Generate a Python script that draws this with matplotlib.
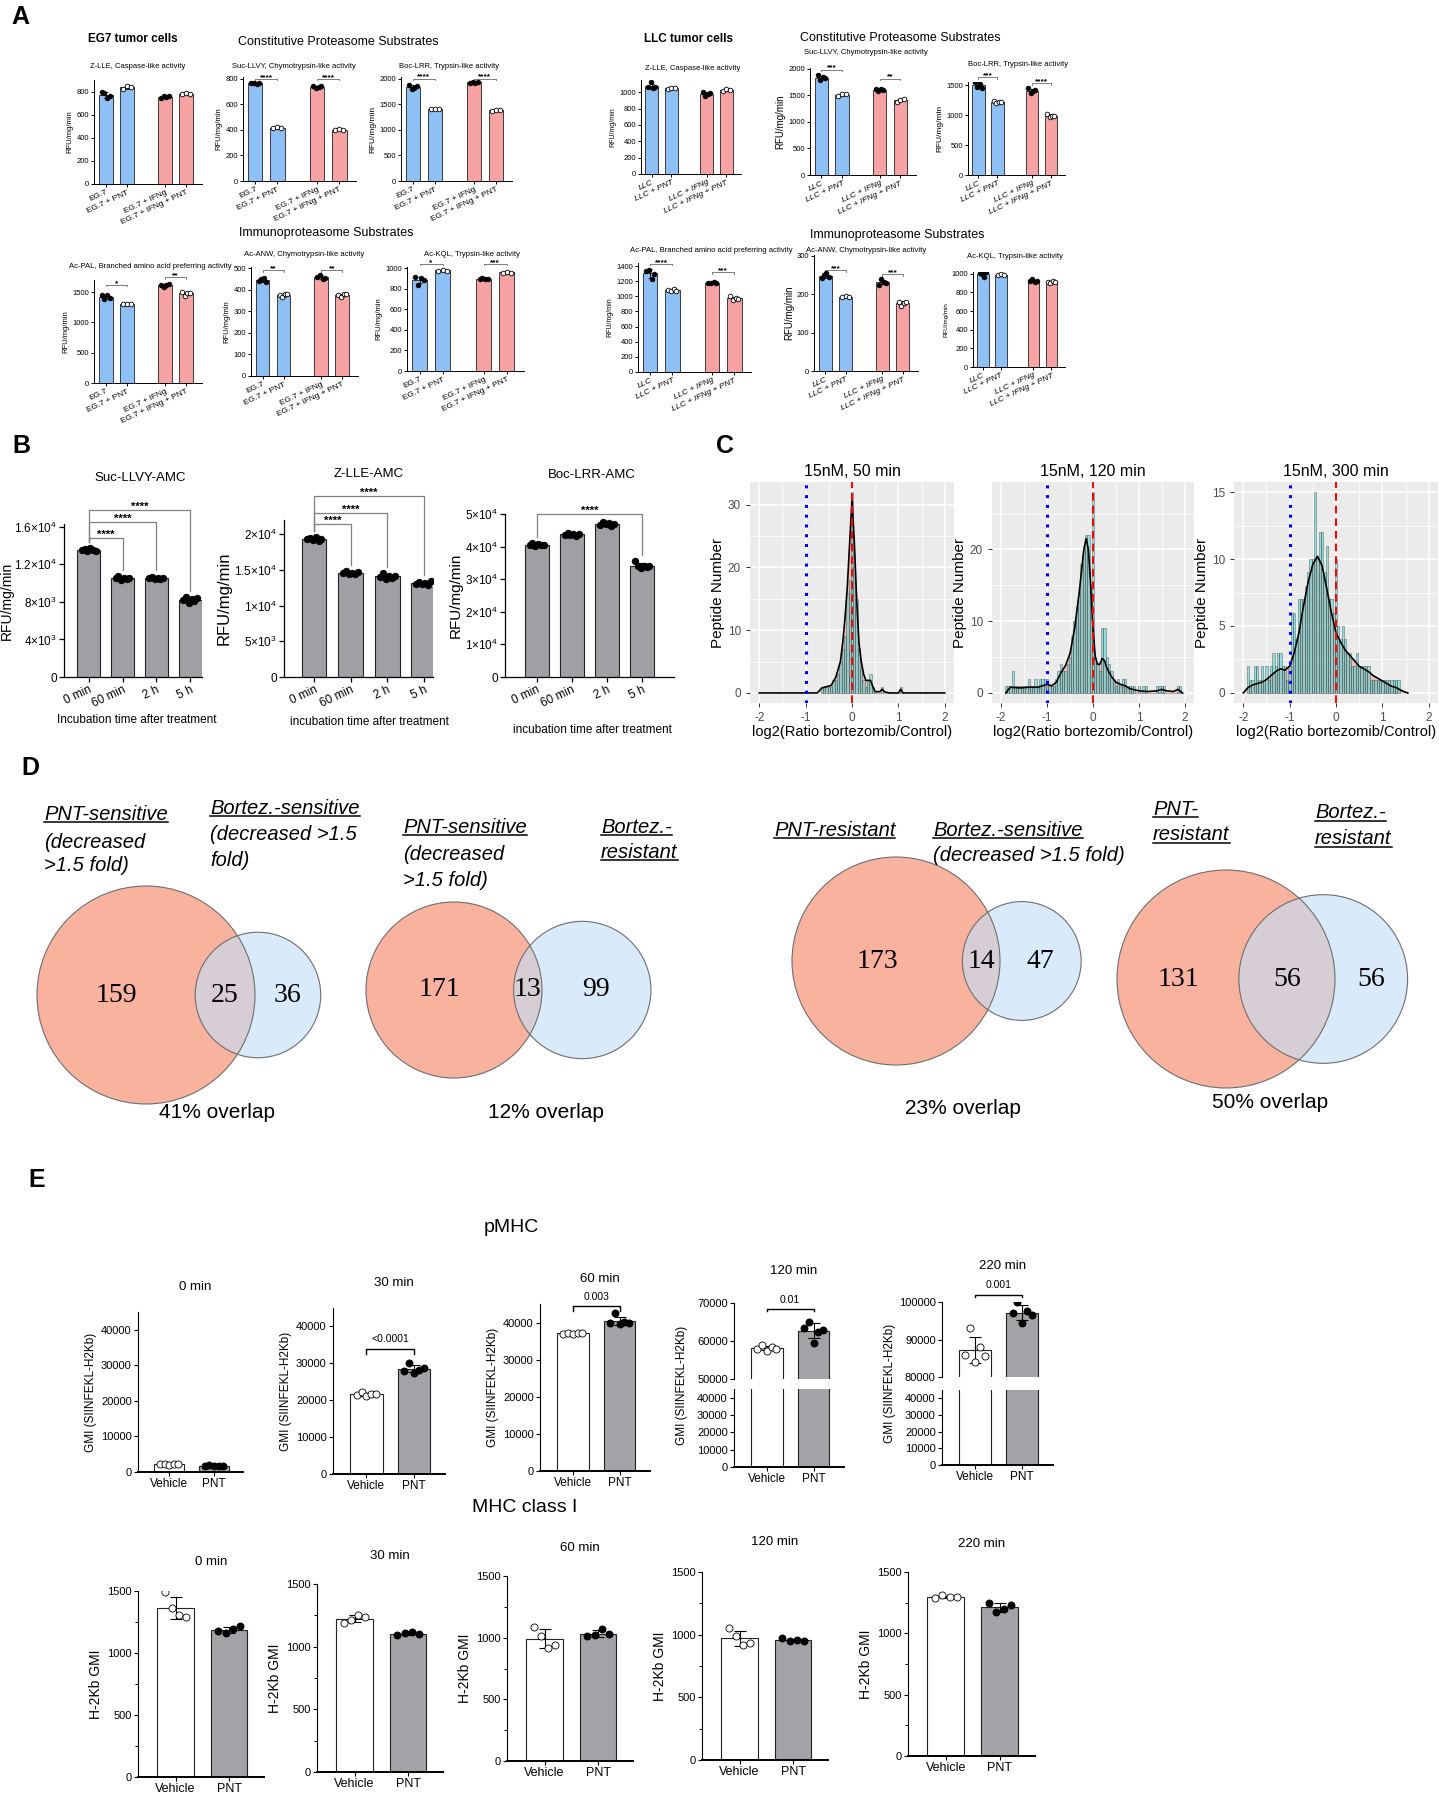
import numpy as np
import matplotlib
matplotlib.use('Agg')
import matplotlib.pyplot as plt
from matplotlib.patches import Circle
from matplotlib.lines import Line2D
from matplotlib.ticker import FuncFormatter

plt.rcParams['font.family'] = ['Liberation Sans', 'DejaVu Sans']
plt.rcParams['mathtext.default'] = 'regular'
plt.rcParams['axes.unicode_minus'] = False

# ---------------- data ----------------
# Panel A: proteasome activity, RFU/mg/min (replicates per group)
eg7_groups = ['EG.7', 'EG.7 + PNT', 'EG.7 + IFNg', 'EG.7 + IFNg + PNT']
llc_groups = ['LLC', 'LLC + PNT', 'LLC + IFNg', 'LLC + IFNg + PNT']

eg7_zlle = [[800, 785, 745, 760], [825, 845, 840], [740, 760, 755, 760], [775, 785, 783]]
eg7_suc = [[765, 770, 760, 768], [415, 420, 412], [745, 730, 735, 748], [400, 405, 402]]
eg7_boc = [[1880, 1790, 1820, 1850], [1410, 1410, 1410], [1920, 1940, 1910, 1930], [1360, 1390, 1380]]
eg7_pal = [[1460, 1380, 1450, 1400], [1300, 1300, 1300], [1620, 1590, 1610, 1630], [1500, 1440, 1490, 1490]]
eg7_anw = [[440, 450, 455, 435], [375, 365, 380, 380], [460, 470, 450, 455], [375, 365, 380, 380]]
eg7_kql = [[910, 840, 900, 880], [975, 985, 970], [890, 900, 895, 895], [955, 960, 955]]
llc_zlle = [[1060, 1120, 1050, 1070], [1040, 1055, 1055], [1000, 960, 980, 990], [1020, 1040, 1030]]
llc_suc = [[1870, 1780, 1840, 1830], [1480, 1520, 1530], [1620, 1580, 1610, 1600], [1380, 1410, 1420]]
llc_boc = [[1550, 1470, 1520, 1450], [1240, 1200, 1210, 1220], [1450, 1370, 1400, 1410], [1020, 970, 990, 980]]
llc_pal = [[1340, 1350, 1230, 1290], [1080, 1070, 1090, 1075], [1180, 1170, 1185, 1175], [1000, 950, 980, 960]]
llc_anw = [[243, 250, 255, 245], [192, 195, 193], [225, 240, 232, 230], [180, 170, 178, 180]]
llc_kql = [[1010, 1000, 970, 1015], [990, 995, 990], [920, 940, 915, 925], [915, 900, 920, 915]]

# significance: (group i, group j, bracket height, stars)
eg7_suc_sig = [(0, 1, 800, '****'), (2, 3, 800, '****')]
eg7_boc_sig = [(0, 1, 2000, '****'), (2, 3, 2000, '****')]
eg7_pal_sig = [(0, 1, 1620, '*'), (2, 3, 1750, '**')]
eg7_anw_sig = [(0, 1, 490, '**'), (2, 3, 490, '**')]
eg7_kql_sig = [(0, 1, 1040, '*'), (2, 3, 1040, '***')]
llc_suc_sig = [(0, 1, 1980, '***'), (2, 3, 1810, '**')]
llc_boc_sig = [(0, 1, 1630, '***'), (2, 3, 1530, '****')]
llc_pal_sig = [(0, 1, 1430, '****'), (2, 3, 1320, '***')]
llc_anw_sig = [(0, 1, 262, '***'), (2, 3, 252, '***')]

# Panel B: activity after treatment
b_times = ['0 min', '60 min', '2 h', '5 h']
b_suc = [[13500, 13600, 13400, 13700, 13550, 13450], [10500, 10800, 10300, 10600, 10400, 10500],
         [10500, 10700, 10400, 10600, 10450, 10550], [8200, 8500, 7900, 8300, 8100, 8400]]
b_zlle = [[19300, 19500, 19200, 19600, 19100, 19400], [14600, 14800, 14400, 14600, 14500, 14700],
          [14000, 14600, 13800, 14100, 13900, 14200], [13100, 13300, 13000, 13200, 12900, 13400]]
b_boc = [[40500, 41000, 40300, 40800, 40400, 40600], [43500, 44200, 43700, 44000, 43300, 43800],
         [46500, 47500, 46800, 47200, 46200, 47000], [35500, 34000, 33500, 34200, 33800, 34000]]
b_suc_sig = [(0, 1, 14800), (0, 2, 16500), (0, 3, 17800)]
b_zlle_sig = [(0, 1, 21500), (0, 2, 23000), (0, 3, 25400)]
b_boc_sig = [(0, 3, 50000)]

# Panel C: histograms of log2 ratio (bin width 0.05), count-scaled density
c1_start = -0.65
c1_counts = [1, 1, 1, 1, 1, 2, 2, 3, 5, 7, 9, 16, 18, 32,
             20, 15, 7, 4, 2, 1, 2, 3, 1, 0, 0, 0, 1, 0, 0, 0, 0, 0, 0, 0, 1]
c1_dens_x = [-2.0, -0.75, -0.65, -0.55, -0.45, -0.35, -0.25, -0.2, -0.15, -0.1, -0.05, 0.0, 0.05, 0.1,
             0.15, 0.2, 0.25, 0.3, 0.35, 0.4, 0.45, 0.5, 0.6, 0.65, 0.7, 0.8, 1.0, 1.05, 1.1, 2.0]
c1_dens_y = [0, 0, 0.8, 1.0, 1.2, 2.5, 5, 8, 12, 17, 24, 31, 24, 15,
             8, 5, 3, 2, 2, 2, 1, 0.2, 0.2, 0.6, 0.2, 0, 0, 0.6, 0, 0]

c2_start = -1.90
c2_counts = [1, 1, 1, 3, 1, 1, 1, 1, 1, 1,
             2, 1, 1, 2, 1, 2, 2, 2, 2, 1,
             1, 1, 2, 3, 4, 3, 3, 4, 5, 8,
             10, 12, 14, 18, 20, 22, 22, 14, 28, 5,
             4, 3, 9, 9, 5, 4, 3, 2, 1, 2,
             1, 2, 2, 1, 1, 1, 1, 0, 1, 0,
             1, 1, 0, 0, 0, 0, 1, 1, 1, 1,
             0, 0, 0, 0, 0, 1, 1, 0]
c2_dens_x = [-1.9, -1.8, -1.6, -1.4, -1.2, -1.0, -0.9, -0.8, -0.7, -0.6, -0.5, -0.4, -0.3, -0.2, -0.15,
             -0.1, -0.05, 0.0, 0.05, 0.1, 0.15, 0.2, 0.25, 0.3, 0.4, 0.5, 0.6, 0.7, 0.8, 1.0, 1.2, 1.4,
             1.5, 1.6, 1.75, 1.85, 1.95]
c2_dens_y = [0, 0.8, 0.7, 0.8, 0.8, 1.2, 1.0, 1.5, 2.8, 3.8, 5.5, 9, 14, 20, 21.5,
             20, 15, 9, 5, 4, 4, 4.8, 4.5, 3.5, 2.3, 1.5, 1.2, 1.0, 0.6, 0.3, 0.2, 0.3,
             0.5, 0.3, 0.2, 0.5, 0]

c3_start = -1.90
c3_counts = [2, 1, 1, 2, 2, 1, 2, 1, 2, 1,
             2, 3, 2, 3, 3, 2, 2, 1, 2, 6,
             6, 4, 7, 7, 7, 8, 9, 10, 10, 15,
             10, 12, 12, 9, 11, 7, 7, 6, 10, 5,
             4, 5, 4, 3, 3, 2, 2, 3, 2, 2,
             2, 2, 2, 1, 1, 1, 1, 1, 1, 1,
             1, 1, 1, 1, 1, 1]
c3_dens_x = [-2.0, -1.9, -1.8, -1.7, -1.6, -1.5, -1.4, -1.3, -1.2, -1.1, -1.0, -0.9, -0.8, -0.7, -0.6,
             -0.5, -0.4, -0.3, -0.2, -0.1, 0.0, 0.1, 0.2, 0.3, 0.4, 0.5, 0.6, 0.7, 0.8, 0.9, 1.0, 1.1,
             1.2, 1.3, 1.4, 1.5, 1.55]
c3_dens_y = [0, 0.4, 0.6, 0.7, 0.8, 1.0, 1.3, 1.6, 1.8, 1.7, 2.0, 3.0, 4.5, 6.5, 8.3,
             9.6, 10.2, 9.5, 7.8, 6.0, 4.5, 3.8, 3.2, 2.8, 2.4, 2.0, 1.8, 1.6, 1.3, 1.1, 0.9, 0.7,
             0.5, 0.4, 0.2, 0.05, 0]
c_titles = ['15nM, 50 min', '15nM, 120 min', '15nM, 300 min']

# Panel D: Venn counts (only A, both, only B)
venn_a_only = [159, 171, 173, 131]
venn_both = [25, 13, 14, 56]
venn_b_only = [36, 99, 47, 56]
venn_pct = ['41% overlap', '12% overlap', '23% overlap', '50% overlap']

# Panel E: flow cytometry GMI
e_times = ['0 min', '30 min', '60 min', '120 min', '220 min']
pmhc_vehicle = [[2200, 2300, 2100, 2200, 2250], [21500, 22300, 21200, 21800, 21600],
                [37000, 37300, 36800, 37200, 37100], [58000, 59000, 57500, 58300, 57800],
                [86000, 93000, 84000, 88000, 85500]]
pmhc_pnt = [[1800, 1850, 1750, 1800, 1820], [28000, 30000, 27500, 28200, 28800],
            [40000, 42500, 39500, 40200, 40000], [63500, 65000, 59500, 62500, 63000],
            [97000, 100000, 94500, 97500, 96500]]
pmhc_p = [None, '<0.0001', '0.003', '0.01', '0.001']
mhc_vehicle = [[1490, 1360, 1310, 1290], [1190, 1210, 1250, 1240], [1090, 1010, 920, 940],
               [1050, 990, 920, 930], [1290, 1310, 1300, 1295]]
mhc_pnt = [[1180, 1160, 1190, 1220], [1090, 1110, 1120, 1100], [1010, 1020, 1070, 1030],
           [970, 950, 960, 950], [1250, 1170, 1200, 1230]]

# ---------------- helpers ----------------
W, H = 1439, 1800
fig = plt.figure(figsize=(W / 100, H / 100), dpi=100)


def box(l, t, r, b):
    return fig.add_axes([l / W, 1 - b / H, (r - l) / W, (b - t) / H])


def ftext(x, y, s, **kw):
    kw.setdefault('ha', 'center')
    kw.setdefault('va', 'center')
    return fig.text(x / W, 1 - y / H, s, **kw)


def prism(ax, fs, lw=0.7, tl=2.5):
    ax.spines[['top', 'right']].set_visible(False)
    for s in ('left', 'bottom'):
        ax.spines[s].set_linewidth(lw)
    ax.tick_params(labelsize=fs, width=lw, length=tl, pad=1.5)


def draw_bars(ax, pts, pos, colors, fills, width, ms, lw=0.7, cap=2, jit=0.28):
    for i, p in enumerate(pts):
        p = np.asarray(p, float)
        m, sd = p.mean(), p.std(ddof=1)
        ax.bar(pos[i], m, width=width, color=colors[i], edgecolor='#222222', linewidth=lw, zorder=2)
        ax.errorbar(pos[i], m, yerr=sd, fmt='none', ecolor='black', elinewidth=lw,
                    capsize=cap, capthick=lw, zorder=3)
        off = np.linspace(-jit, jit, len(p)) * width
        ax.scatter(pos[i] + off, p, s=ms, c=fills[i], edgecolors='black', linewidths=0.6, zorder=4)


def star_bracket(ax, x0, x1, h, label, fs, drop, color='#666666', lw=0.6):
    ax.plot([x0, x0, x1, x1], [h - drop, h, h, h - drop], color=color, lw=lw, clip_on=False)
    ax.annotate(label, xy=((x0 + x1) / 2, h), xytext=(0, -1.5), textcoords='offset points',
                ha='center', va='bottom', fontsize=fs, fontweight='bold', annotation_clip=False)


# ---------------- panel letters & headers ----------------
for lt, x, y in [('A', 20, 17), ('B', 21, 446), ('C', 725, 446), ('D', 30, 768), ('E', 37, 1180)]:
    ftext(x, y, lt, fontsize=18, fontweight='bold')

ftext(133, 39, 'EG7 tumor cells', fontsize=8.5, fontweight='bold')
ftext(338, 42, 'Constitutive Proteasome Substrates', fontsize=9)
ftext(688, 39, 'LLC tumor cells', fontsize=8.5, fontweight='bold')
ftext(900, 38, 'Constitutive Proteasome Substrates', fontsize=9)
ftext(326, 233, 'Immunoproteasome Substrates', fontsize=9)
ftext(897, 235, 'Immunoproteasome Substrates', fontsize=9)

# ---------------- panel A ----------------
a_pos = [0, 1, 2.8, 3.8]
a_colors = ['#8EC0F5', '#8EC0F5', '#F7A3A3', '#F7A3A3']
a_fills = ['black', 'white', 'black', 'white']

a_specs = [
    (eg7_zlle, [], eg7_groups, 'normal', 'Z-LLE, Caspase-like activity', (94, 80, 202, 184), 900, 200, (138, 66), 5.5),
    (eg7_suc, eg7_suc_sig, eg7_groups, 'normal', 'Suc-LLVY, Chymotrypsin-like activity', (243, 77, 356, 181), 815, 200, (294, 66), 5.5),
    (eg7_boc, eg7_boc_sig, eg7_groups, 'normal', 'Boc-LRR, Trypsin-like activity', (401, 77, 512, 181), 2030, 500, (449, 66), 6),
    (llc_zlle, [], llc_groups, 'italic', 'Z-LLE, Caspase-like activity', (641, 80, 741, 174), 1150, 200, (693, 68), 5),
    (llc_suc, llc_suc_sig, llc_groups, 'italic', 'Suc-LLVY, Chymotrypsin-like activity', (810, 68, 916, 175), 2010, 500, (866, 53), 7),
    (llc_boc, llc_boc_sig, llc_groups, 'italic', 'Boc-LRR, Trypsin-like activity', (968, 82, 1065, 175), 1550, 500, (1018, 65), 6),
    (eg7_pal, eg7_pal_sig, eg7_groups, 'normal', 'Ac-PAL, Branched amino acid preferring activity', (94, 280, 202, 383), 1700, 500, (150, 266), 5.5),
    (eg7_anw, eg7_anw_sig, eg7_groups, 'normal', 'Ac-ANW, Chymotrypsin-like activity', (251, 267, 358, 376), 505, 100, (304, 254), 5.5),
    (eg7_kql, eg7_kql_sig, eg7_groups, 'normal', 'Ac-KQL, Trypsin-like activity', (407, 267, 524, 371), 1010, 200, (472, 254), 5.5),
    (llc_pal, llc_pal_sig, llc_groups, 'italic', 'Ac-PAL, Branched amino acid preferring activity', (638, 263, 751, 372), 1440, 200, (711, 250), 5),
    (llc_anw, llc_anw_sig, llc_groups, 'italic', 'Ac-ANW, Chymotrypsin-like activity', (814, 255, 918, 371), 302, 100, (866, 251), 7),
    (llc_kql, [], llc_groups, 'italic', 'Ac-KQL, Trypsin-like activity', (973, 272, 1065, 367), 1020, 200, (1015, 257), 4.5),
]

for pts, sig, labels, style, title, bx, ytop, step, txy, yls in a_specs:
    ax = box(*bx)
    prism(ax, 5.5, lw=0.7, tl=2)
    draw_bars(ax, pts, a_pos, a_colors, a_fills, 0.65, 11, lw=0.6, cap=1.5)
    ax.set_xlim(-0.55, a_pos[-1] + 0.75)
    ax.set_ylim(0, ytop)
    ax.set_yticks(np.arange(0, ytop + 1, step))
    ax.set_xticks(a_pos)
    ax.set_xticklabels(labels, rotation=25, ha='right', rotation_mode='anchor', fontsize=6, style=style)
    ax.set_ylabel('RFU/mg/min', fontsize=yls, labelpad=2)
    ftext(txy[0], txy[1], title, fontsize=5.5)
    for i, j, h, lab in sig:
        star_bracket(ax, a_pos[i], a_pos[j], h, lab, 6, ytop * 0.015)

# ---------------- panel B ----------------
def sci_label(v, _pos=None):
    if v == 0:
        return '0'
    e = int(np.floor(np.log10(v)))
    return r'$%g{\times}10^{%d}$' % (v / 10 ** e, e)


b_specs = [
    (b_suc, b_suc_sig, 'Suc-LLVY-AMC', 'Incubation time after treatment', (64, 524, 202, 677), 16300, 4000,
     (-0.73, 3.35), (140, 478), (137, 720), 10, 0),
    (b_zlle, b_zlle_sig, 'Z-LLE-AMC', 'incubation time after treatment', (284, 520, 433, 677), 22000, 5000,
     (-0.82, 3.25), (369, 474), (369, 722), 12, 2),
    (b_boc, b_boc_sig, 'Boc-LRR-AMC', 'incubation time after treatment', (505, 514, 674, 677), 50000, 10000,
     (-0.9, 3.9), (592, 475), (592, 730), 11, 2),
]
b_x = np.arange(len(b_times))
for pts, sig, title, xlab, bx, ytop, step, xl, txy, xxy, yls, ylp in b_specs:
    ax = box(*bx)
    prism(ax, 8.5, lw=0.9, tl=3.5)
    draw_bars(ax, pts, b_x, ['#A0A0A4'] * 4, ['black'] * 4, 0.68, 22, lw=0.8, cap=3, jit=0.3)
    ax.set_xlim(*xl)
    ax.set_ylim(0, ytop)
    ax.set_yticks(np.arange(0, ytop + 1, step))
    ax.yaxis.set_major_formatter(FuncFormatter(sci_label))
    ax.set_xticks(b_x)
    ax.set_xticklabels(b_times, rotation=25, ha='right', rotation_mode='anchor', fontsize=8.5)
    ax.set_ylabel('RFU/mg/min', fontsize=yls, labelpad=ylp)
    ftext(txy[0], txy[1], title, fontsize=9.5)
    ftext(xxy[0], xxy[1], xlab, fontsize=8.5)
    pad = ytop * 0.04
    for i, j, h in sig:
        top_i = max(pts[i]) + pad
        top_j = max(pts[j]) + pad
        ax.plot([b_x[i], b_x[i], b_x[j], b_x[j]], [top_i, h, h, top_j], color='#808080', lw=0.9, clip_on=False)
        ax.annotate('****', xy=((b_x[i] + b_x[j]) / 2, h), xytext=(0, -1.5), textcoords='offset points',
                    ha='center', va='bottom', fontsize=8, fontweight='bold', annotation_clip=False)

# ---------------- panel C ----------------
c_specs = [
    (c1_start, c1_counts, c1_dens_x, c1_dens_y, (750, 482, 954, 703), (-1.6, 33.6), [0, 10, 20, 30], [5, 15, 25]),
    (c2_start, c2_counts, c2_dens_x, c2_dens_y, (992, 482, 1194, 703), (-1.4, 29.4), [0, 10, 20], [5, 15, 25]),
    (c3_start, c3_counts, c3_dens_x, c3_dens_y, (1234, 482, 1438, 703), (-0.75, 15.75), [0, 5, 10, 15], [2.5, 7.5, 12.5]),
]
for k, (start, counts, dx, dy, bx, yl, yt, ymin) in enumerate(c_specs):
    ax = box(*bx)
    ax.set_facecolor('#EBEBEB')
    for s in ax.spines.values():
        s.set_visible(False)
    centers = start + 0.05 * np.arange(len(counts))
    ax.fill_between(dx, dy, color='#F8766D', alpha=0.38, lw=0, zorder=2)
    ax.bar(centers, counts, width=0.05, color='#3FD3D3', alpha=0.5, edgecolor='#2A2A2A', linewidth=0.5, zorder=3)
    ax.plot(dx, dy, color='black', lw=1.2, zorder=4)
    ax.axvline(-1, color='blue', ls=(0, (1, 2.2)), lw=2.2, zorder=5)
    ax.axvline(0, color='red', ls=(0, (4, 2.5)), lw=1.4, zorder=5)
    ax.set_xlim(-2.2, 2.2)
    ax.set_ylim(*yl)
    ax.set_xticks([-2, -1, 0, 1, 2])
    ax.set_xticks([-1.5, -0.5, 0.5, 1.5], minor=True)
    ax.set_yticks(yt)
    ax.set_yticks(ymin, minor=True)
    ax.grid(which='major', color='white', lw=1.1, zorder=0)
    ax.grid(which='minor', color='white', lw=0.55, zorder=0)
    ax.set_axisbelow(True)
    ax.tick_params(which='major', labelsize=8.5, labelcolor='#4D4D4D', color='#333333', length=3, width=0.7)
    ax.tick_params(which='minor', length=0)
    ax.set_xlabel('log2(Ratio bortezomib/Control)', fontsize=10.5, labelpad=1)
    ax.set_ylabel('Peptide Number', fontsize=11, labelpad=2)
    ftext((bx[0] + bx[2]) / 2, 472, c_titles[k], fontsize=11.5)

# ---------------- panel D ----------------
def lens_area(r1, r2, d):
    if d >= r1 + r2:
        return 0.0
    if d <= abs(r1 - r2):
        return np.pi * min(r1, r2) ** 2
    a1 = r1 ** 2 * np.arccos((d * d + r1 * r1 - r2 * r2) / (2 * d * r1))
    a2 = r2 ** 2 * np.arccos((d * d + r2 * r2 - r1 * r1) / (2 * d * r2))
    a3 = 0.5 * np.sqrt((-d + r1 + r2) * (d + r1 - r2) * (d - r1 + r2) * (d + r1 + r2))
    return a1 + a2 - a3


def venn_distance(r1, r2, target):
    lo, hi = abs(r1 - r2), r1 + r2
    for _ in range(80):
        mid = (lo + hi) / 2
        if lens_area(r1, r2, mid) > target:
            lo = mid
        else:
            hi = mid
    return (lo + hi) / 2


axd = box(0, 760, 1439, 1140)
axd.set_xlim(0, W)
axd.set_ylim(1140, 760)
axd.axis('off')

venn_layout = [(146, 995, 109), (454, 990, 88), (896, 961, 104), (1226, 979, 109)]
venn_pct_xy = [(217, 1112), (546, 1113), (963, 1108), (1270, 1102)]
for i in range(4):
    a_tot = venn_a_only[i] + venn_both[i]
    b_tot = venn_b_only[i] + venn_both[i]
    cx, cy, ra = venn_layout[i]
    rb = ra * np.sqrt(b_tot / a_tot)
    d = venn_distance(ra, rb, venn_both[i] / a_tot * np.pi * ra ** 2)
    axd.add_patch(Circle((cx, cy), ra, fc='#F9B29E', ec='none', zorder=1))
    axd.add_patch(Circle((cx + d, cy), rb, fc='#C3E0F7', alpha=0.62, ec='none', zorder=2))
    axd.add_patch(Circle((cx, cy), ra, fill=False, ec='#6E6E6E', lw=0.8, zorder=3))
    axd.add_patch(Circle((cx + d, cy), rb, fill=False, ec='#6E6E6E', lw=0.8, zorder=3))
    la, lb, rra, rrb = cx - ra, cx + d - rb, cx + ra, cx + d + rb
    for xx, val in [((la + lb) / 2, venn_a_only[i]), ((lb + rra) / 2, venn_both[i]), ((rra + rrb) / 2, venn_b_only[i])]:
        axd.text(xx, cy, str(val), ha='center', va='center', fontsize=20, family='Liberation Serif', zorder=4)
    ftext(venn_pct_xy[i][0], venn_pct_xy[i][1], venn_pct[i], fontsize=15)

# label lines: (x, y, text, underlined)
venn_labels = [
    (44, 815, 'PNT-sensitive', True), (44, 842, '(decreased', False), (44, 866, '>1.5 fold)', False),
    (210, 808, 'Bortez.-sensitive', True), (210, 834, '(decreased >1.5', False), (210, 860, 'fold)', False),
    (403, 828, 'PNT-sensitive', True), (403, 854, '(decreased', False), (403, 880, '>1.5 fold)', False),
    (601, 828, 'Bortez.-', True), (601, 852, 'resistant', True),
    (774, 830, 'PNT-resistant', True),
    (933, 830, 'Bortez.-sensitive', True), (933, 856, '(decreased >1.5 fold)', False),
    (1153, 810, 'PNT-', True), (1153, 835, 'resistant', True),
    (1315, 813, 'Bortez.-', True), (1315, 839, 'resistant', True),
]
ul_texts = []
for x, y, s, ul in venn_labels:
    t = ftext(x, y, s, ha='left', fontsize=14.5, style='italic')
    if ul:
        ul_texts.append(t)

# ---------------- panel E ----------------
ftext(511, 1228, 'pMHC', fontsize=14)
ftext(525, 1508, 'MHC class I', fontsize=14)

e_x = np.arange(2)
e_colors = ['white', '#A3A3A7']
e_fills = ['white', 'black']
pmhc_boxes = [(138, 1312, 243, 1472), (333, 1308, 445, 1474), (540, 1304, 650, 1471),
              (734, 1303, 844, 1467), (942, 1302, 1053, 1465)]
pmhc_title_y = [1287, 1283, 1279, 1271, 1266]
pmhc_bracket_h = [None, 34000, 44500, 68500, 102000]
pmhc_break = {3: (1379, 1389, (50000, 70000), [50000, 60000, 70000]),
              4: (1377, 1390, (80000, 100000), [80000, 90000, 100000])}


def e_style(ax, fs=8):
    prism(ax, fs, lw=0.8, tl=3)
    ax.spines['bottom'].set_linewidth(1.4)
    ax.set_xlim(-0.7, 1.65)


for k in range(5):
    l, t, r, b = pmhc_boxes[k]
    pts = [pmhc_vehicle[k], pmhc_pnt[k]]
    if k in pmhc_break:
        ub, lt_, uyl, uticks = pmhc_break[k]
        axu = box(l, t, r, ub)
        axl = box(l, lt_, r, b)
        for a in (axu, axl):
            e_style(a)
            draw_bars(a, pts, e_x, e_colors, e_fills, 0.68, 26, lw=0.8, cap=4, jit=0.3)
        axu.set_ylim(*uyl)
        axu.set_yticks(uticks)
        axu.spines['bottom'].set_visible(False)
        axu.set_xticks([])
        axl.set_ylim(0, 45000)
        axl.set_yticks(np.arange(0, 40001, 10000))
        axl.set_xticks(e_x)
        axl.set_xticklabels(['Vehicle', 'PNT'], fontsize=8.5)
        ftext(l - 52, (t + b) / 2, 'GMI (SIINFEKL-H2Kb)', fontsize=8.5, rotation=90)
        top_ax = axu
    else:
        ax = box(l, t, r, b)
        e_style(ax)
        draw_bars(ax, pts, e_x, e_colors, e_fills, 0.68, 26, lw=0.8, cap=4, jit=0.3)
        ax.set_ylim(0, 45000)
        ax.set_yticks(np.arange(0, 40001, 10000))
        ax.set_xticks(e_x)
        ax.set_xticklabels(['Vehicle', 'PNT'], fontsize=8.5)
        ax.set_ylabel('GMI (SIINFEKL-H2Kb)', fontsize=8.5, labelpad=3)
        top_ax = ax
    h = pmhc_bracket_h[k]
    if h is not None:
        span = top_ax.get_ylim()[1] - top_ax.get_ylim()[0]
        dd = span * 0.03
        top_ax.plot([0, 0, 1, 1], [h - dd, h, h, h - dd], color='black', lw=1.0, clip_on=False)
        top_ax.annotate(pmhc_p[k], xy=(0.5, h), xytext=(0, 3), textcoords='offset points',
                        ha='center', va='bottom', fontsize=7.5, annotation_clip=False)
    ftext((l + r) / 2 + 5, pmhc_title_y[k], e_times[k], fontsize=9.5)

mhc_boxes = [(138, 1591, 264, 1777), (317, 1584, 443, 1772), (507, 1576, 633, 1761),
             (702, 1572, 828, 1760), (908, 1572, 1035, 1756)]
mhc_title_y = [1562, 1556, 1548, 1542, 1544]
for k in range(5):
    l, t, r, b = mhc_boxes[k]
    ax = box(l, t, r, b)
    e_style(ax)
    draw_bars(ax, [mhc_vehicle[k], mhc_pnt[k]], e_x, e_colors, e_fills, 0.68, 26, lw=0.8, cap=4, jit=0.3)
    ax.set_ylim(0, 1500)
    ax.set_yticks([0, 500, 1000, 1500])
    ax.set_yticks([250, 750, 1250], minor=True)
    ax.tick_params(which='minor', length=2, width=0.7)
    ax.set_xticks(e_x)
    ax.set_xticklabels(['Vehicle', 'PNT'], fontsize=9)
    ax.set_ylabel('H-2Kb GMI', fontsize=10, labelpad=3)
    ftext((l + r) / 2 + 10, mhc_title_y[k], e_times[k], fontsize=9.5)

# underline venn headers
fig.canvas.draw()
rend = fig.canvas.get_renderer()
for t in ul_texts:
    bb = t.get_window_extent(renderer=rend)
    y = (bb.y0 + 2) / H
    fig.add_artist(Line2D([bb.x0 / W, bb.x1 / W], [y, y], transform=fig.transFigure, color='black', lw=1.1))

fig.savefig('out.png', dpi=100)
